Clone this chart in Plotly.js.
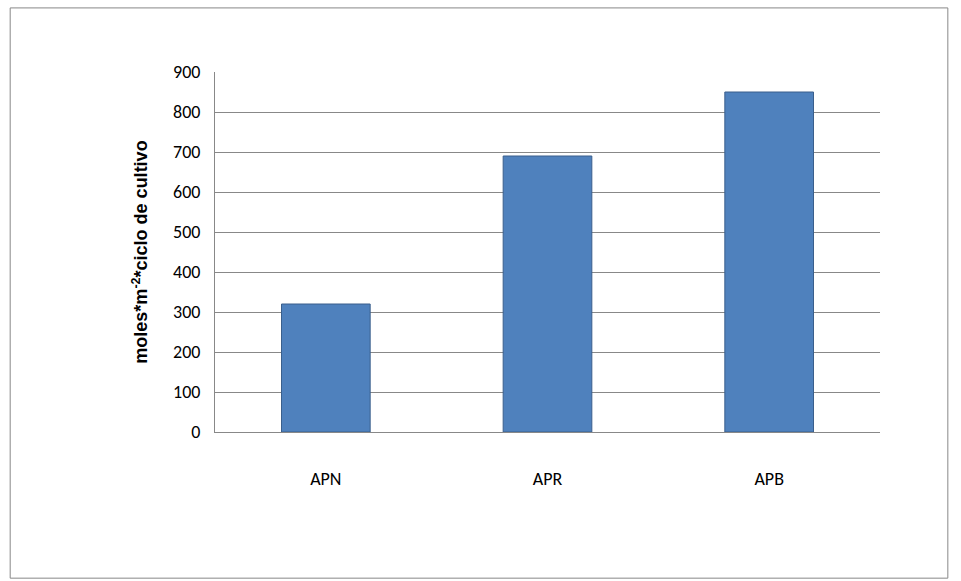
<!DOCTYPE html>
<html><head><meta charset="utf-8">
<script src="https://cdn.plot.ly/plotly-3.0.1.min.js"></script>
<style>body{margin:0}#chart{width:961px;height:581px}</style>
</head><body><div id="chart"></div>
<script>
const categories = ['APN', 'APR', 'APB'];
const values = [320, 690, 850];

const bars = {
  x: categories, y: values, type: 'bar',
  marker: {color: '#4F81BD', line: {color: '#3A5F8C', width: 1}},
  width: 0.4, hoverinfo: 'x+y'
};

const layout = {
  width: 961, height: 581,
  margin: {l: 215, r: 81, t: 72, b: 149},
  paper_bgcolor: 'white', plot_bgcolor: 'white',
  font: {family: 'Calibri, Carlito, "Liberation Sans", sans-serif', size: 18, color: '#000'},
  showlegend: false,
  xaxis: {showline: true, linecolor: '#888', ticks: '', tickfont: {size: 18}, ticklabelstandoff: 30},
  yaxis: {
    range: [0, 900], dtick: 100, showgrid: true, gridcolor: '#888', gridwidth: 1,
    zeroline: false, showline: true, linecolor: '#888', tickfont: {size: 18}, ticklabelstandoff: 10,
    title: {text: 'moles*m<sup>-2</sup>*ciclo de cultivo', font: {size: 18, family: '"Liberation Sans", Arial, sans-serif', weight: 'bold'}, standoff: 20}
  },
  shapes: [{type: 'rect', xref: 'paper', yref: 'paper', x0: -0.308, x1: 1.102, y0: -0.406, y1: 1.178,
            line: {color: '#888', width: 1}}]
};

Plotly.newPlot('chart', [bars], layout, {displayModeBar: false});
</script></body></html>
